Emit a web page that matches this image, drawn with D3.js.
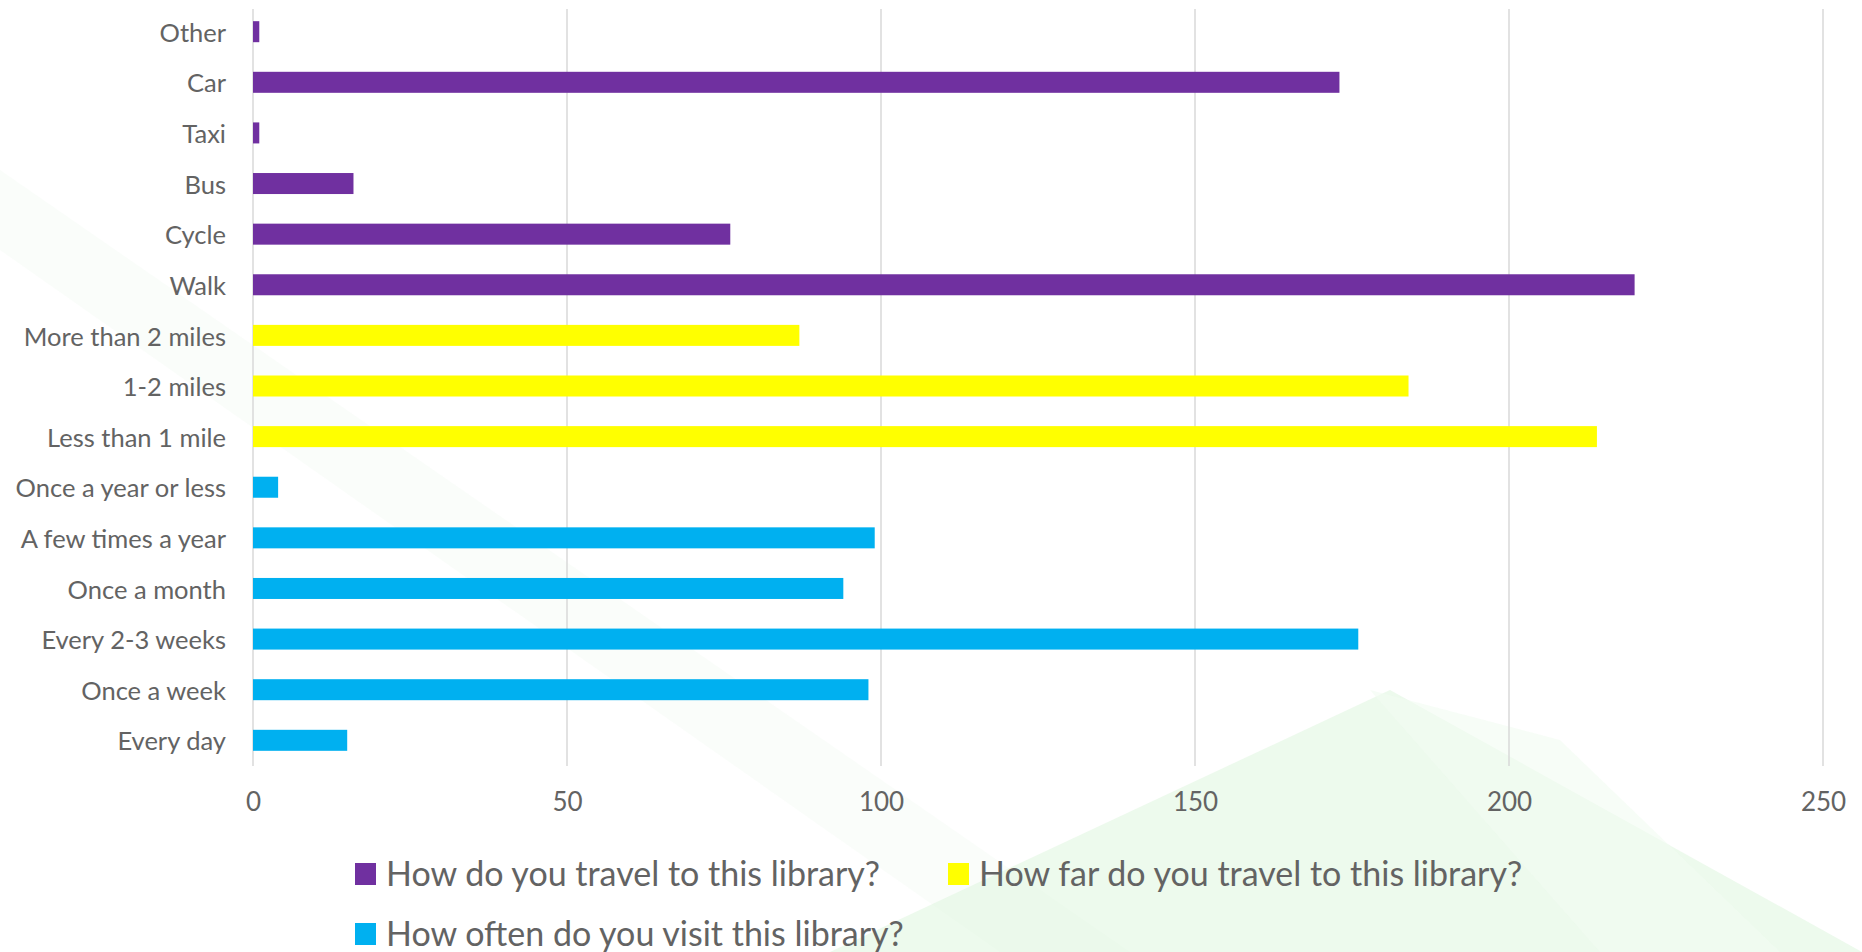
<!DOCTYPE html>
<html>
<head>
<meta charset="utf-8">
<script src="https://cdn.jsdelivr.net/npm/d3@7"></script>
<style>
  body { margin: 0; background: #fff; }
  svg { display: block; font-family: Lato, "Open Sans", sans-serif; }
</style>
</head>
<body>
<svg id="chart" width="1862" height="952"></svg>
<script>
// categories top to bottom, grouped by question
var travelCats = ["Other", "Car", "Taxi", "Bus", "Cycle", "Walk"];
var travelVals = [1, 173, 1, 16, 76, 220];
var farCats = ["More than 2 miles", "1-2 miles", "Less than 1 mile"];
var farVals = [87, 184, 214];
var oftenCats = ["Once a year or less", "A few times a year", "Once a month", "Every 2-3 weeks", "Once a week", "Every day"];
var oftenVals = [4, 99, 94, 176, 98, 15];
var seriesNames = ["How do you travel to this library?", "How far do you travel to this library?", "How often do you visit this library?"];
var seriesColors = ["#7030a0", "#ffff00", "#00b0f0"];
var xTicks = [0, 50, 100, 150, 200, 250];

var data = [];
travelCats.forEach(function(c, i) { data.push({cat: c, val: travelVals[i], s: 0}); });
farCats.forEach(function(c, i) { data.push({cat: c, val: farVals[i], s: 1}); });
oftenCats.forEach(function(c, i) { data.push({cat: c, val: oftenVals[i], s: 2}); });

var svg = d3.select("#chart");

// faint green background shapes
var bg = svg.append("g");
bg.append("polygon").attr("points", "0,170 0,250 1000,952 1130,952").attr("fill", "#eaf8ea").attr("opacity", 0.25);
bg.append("polygon").attr("points", "830,952 1390,690 1862,952").attr("fill", "#dcf6dc").attr("opacity", 0.5);
bg.append("polygon").attr("points", "1370,690 1560,740 1780,952 1600,952").attr("fill", "#f2fbf2").attr("opacity", 0.6);

var x = d3.scaleLinear().domain([0, 250]).range([253, 1823]);
var y = d3.scaleBand()
  .domain(data.map(function(d) { return d.cat; }))
  .range([6, 766])
  .paddingInner(0.585)
  .paddingOuter(0.3);

// gridlines
svg.append("g")
  .selectAll("line")
  .data(xTicks)
  .enter().append("line")
    .attr("x1", function(d) { return x(d); })
    .attr("x2", function(d) { return x(d); })
    .attr("y1", 9)
    .attr("y2", 766)
    .attr("stroke", "#d9d9d9")
    .attr("stroke-width", 1.5);

svg.append("g")
  .selectAll("rect")
  .data(data)
  .enter().append("rect")
    .attr("x", x(0))
    .attr("y", function(d) { return y(d.cat); })
    .attr("width", function(d) { return x(d.val) - x(0); })
    .attr("height", y.bandwidth())
    .attr("fill", function(d) { return seriesColors[d.s]; });

// category labels
var yAxis = d3.axisLeft(y).tickSize(0).tickPadding(0);
var ya = svg.append("g")
  .attr("transform", "translate(226,2)")
  .call(yAxis);
ya.select(".domain").remove();
ya.selectAll("text").attr("font-size", 25.5).attr("fill", "#636363").attr("font-family", "Lato");

// value axis labels
var xAxis = d3.axisBottom(x).tickValues(xTicks).tickSize(0).tickPadding(0);
var xa = svg.append("g")
  .attr("transform", "translate(0,793)")
  .call(xAxis);
xa.select(".domain").remove();
xa.selectAll("text").attr("font-size", 26).attr("fill", "#636363").attr("font-family", "Lato");

// legend
var legendPos = [[355, 874], [948, 874], [355, 934]];
var lg = svg.append("g").selectAll("g")
  .data(seriesNames)
  .enter().append("g")
    .attr("transform", function(d, i) { return "translate(" + legendPos[i][0] + "," + legendPos[i][1] + ")"; });
lg.append("rect")
  .attr("x", 0).attr("y", -11).attr("width", 21).attr("height", 22)
  .attr("fill", function(d, i) { return seriesColors[i]; });
lg.append("text")
  .attr("x", 31).attr("dy", "0.35em")
  .attr("font-size", 34).attr("fill", "#636363")
  .text(function(d) { return d; });
</script>
</body>
</html>
